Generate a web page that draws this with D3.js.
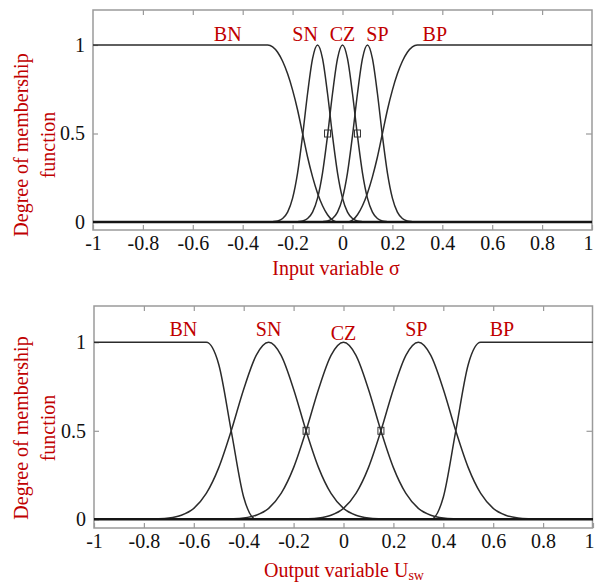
<!DOCTYPE html>
<html>
<head>
    <meta charset="utf-8">
    <title>Membership functions</title>
    <script src="https://d3js.org/d3.v7.min.js"></script>
    <style>
        body { margin: 0; padding: 0; background: #fff; }
        svg text { font-family: "Liberation Serif", "DejaVu Serif", serif; }
        .frame { fill: none; stroke: #9a9a9a; stroke-width: 1.5; }
        .axis .domain { display: none; }
        .axis .tick line { stroke: #9a9a9a; stroke-width: 1.2; }
        .axis .tick text { fill: #111; font-size: 20px; }
        .mf { fill: none; stroke: #2b2b2b; stroke-width: 1.5; }
        .red { fill: #c00000; font-size: 20px; }
    </style>
</head>
<body>
<svg id="svg" width="596" height="586"></svg>
<script>
    const mfNames = ["BN", "SN", "CZ", "SP", "BP"];
    const xTicks = [-1, -0.8, -0.6, -0.4, -0.2, 0, 0.2, 0.4, 0.6, 0.8, 1];
    const yTicks = [0, 0.5, 1];

    // Input variable sigma (top chart)
    const inputX = [-1,
        -0.34, -0.32, -0.30, -0.28, -0.26, -0.24, -0.22, -0.20, -0.18, -0.16, -0.14, -0.12, -0.10, -0.08, -0.06, -0.04, -0.02,
        0,
        0.02, 0.04, 0.06, 0.08, 0.10, 0.12, 0.14, 0.16, 0.18, 0.20, 0.22, 0.24, 0.26, 0.28, 0.30, 0.32, 0.34,
        1];
    const inputBN = [1,
        1, 1, 1, 0.99, 0.959, 0.908, 0.837, 0.745, 0.633, 0.5, 0.367, 0.255, 0.163, 0.092, 0.041, 0.01, 0,
        0,
        0, 0, 0, 0, 0, 0, 0, 0, 0, 0, 0, 0, 0, 0, 0, 0, 0,
        0];
    const inputSN = [0,
        0, 0, 0, 0.002, 0.006, 0.02, 0.056, 0.135, 0.278, 0.487, 0.726, 0.923, 1, 0.923, 0.726, 0.487, 0.278,
        0.135,
        0.056, 0.02, 0.006, 0.002, 0, 0, 0, 0, 0, 0, 0, 0, 0, 0, 0, 0, 0,
        0];
    const inputCZ = [0,
        0, 0, 0, 0, 0, 0, 0, 0, 0.002, 0.006, 0.02, 0.056, 0.135, 0.278, 0.487, 0.726, 0.923,
        1,
        0.923, 0.726, 0.487, 0.278, 0.135, 0.056, 0.02, 0.006, 0.002, 0, 0, 0, 0, 0, 0, 0, 0,
        0];
    const inputSP = [0,
        0, 0, 0, 0, 0, 0, 0, 0, 0, 0, 0, 0, 0, 0.002, 0.006, 0.02, 0.056,
        0.135,
        0.278, 0.487, 0.726, 0.923, 1, 0.923, 0.726, 0.487, 0.278, 0.135, 0.056, 0.02, 0.006, 0.002, 0, 0, 0,
        0];
    const inputBP = [0,
        0, 0, 0, 0, 0, 0, 0, 0, 0, 0, 0, 0, 0, 0, 0, 0, 0,
        0,
        0, 0.01, 0.041, 0.092, 0.163, 0.255, 0.367, 0.5, 0.633, 0.745, 0.837, 0.908, 0.959, 0.99, 1, 1, 1,
        1];
    const inputMarks = [-0.06, 0.06];

    // Output variable Usw (bottom chart)
    const outputX = [
        -1, -0.95, -0.9, -0.85, -0.8, -0.75, -0.7, -0.65, -0.6, -0.55,
        -0.5, -0.45, -0.4, -0.35, -0.3, -0.25, -0.2, -0.15, -0.1, -0.05,
        0, 0.05, 0.1, 0.15, 0.2, 0.25, 0.3, 0.35, 0.4, 0.45,
        0.5, 0.55, 0.6, 0.65, 0.7, 0.75, 0.8, 0.85, 0.9, 0.95,
        1];
    const outputBN = [
        1, 1, 1, 1, 1, 1, 1, 1, 1, 1,
        0.875, 0.5, 0.125, 0, 0, 0, 0, 0, 0, 0,
        0, 0, 0, 0, 0, 0, 0, 0, 0, 0,
        0, 0, 0, 0, 0, 0, 0, 0, 0, 0,
        0];
    const outputSN = [
        0, 0, 0, 0, 0, 0.002, 0.007, 0.023, 0.062, 0.146,
        0.292, 0.5, 0.735, 0.926, 1, 0.926, 0.735, 0.5, 0.292, 0.146,
        0.062, 0.023, 0.007, 0.002, 0, 0, 0, 0, 0, 0,
        0, 0, 0, 0, 0, 0, 0, 0, 0, 0,
        0];
    const outputCZ = [
        0, 0, 0, 0, 0, 0, 0, 0, 0, 0,
        0, 0.002, 0.007, 0.023, 0.062, 0.146, 0.292, 0.5, 0.735, 0.926,
        1, 0.926, 0.735, 0.5, 0.292, 0.146, 0.062, 0.023, 0.007, 0.002,
        0, 0, 0, 0, 0, 0, 0, 0, 0, 0,
        0];
    const outputSP = [
        0, 0, 0, 0, 0, 0, 0, 0, 0, 0,
        0, 0, 0, 0, 0, 0, 0, 0.002, 0.007, 0.023,
        0.062, 0.146, 0.292, 0.5, 0.735, 0.926, 1, 0.926, 0.735, 0.5,
        0.292, 0.146, 0.062, 0.023, 0.007, 0.002, 0, 0, 0, 0,
        0];
    const outputBP = [
        0, 0, 0, 0, 0, 0, 0, 0, 0, 0,
        0, 0, 0, 0, 0, 0, 0, 0, 0, 0,
        0, 0, 0, 0, 0, 0, 0, 0, 0.125, 0.5,
        0.875, 1, 1, 1, 1, 1, 1, 1, 1, 1,
        1];
    const outputMarks = [-0.15, 0.15];

    // where the MF names sit, in data units
    const inputLabelPos = [[-0.46, 1.025], [-0.15, 1.025], [0, 1.025], [0.14, 1.025], [0.37, 1.025]];
    const outputLabelPos = [[-0.642, 1.033], [-0.3, 1.033], [0, 1.013], [0.292, 1.033], [0.635, 1.033]];

    const svg = d3.select("#svg");

    function drawPanel(p) {
        const x = d3.scaleLinear().domain([-1, 1]).range([p.x0, p.x1]);
        const y = d3.scaleLinear().domain([0, 1]).range([p.yZero, p.yOne]);
        const g = svg.append("g");

        g.append("rect")
            .attr("class", "frame")
            .attr("x", p.left).attr("y", p.top)
            .attr("width", p.right - p.left).attr("height", p.bottom - p.top);

        // Inward ticks on all four sides.
        const xAxis = g.append("g")
            .attr("class", "axis")
            .attr("transform", `translate(0, ${p.bottom})`)
            .call(d3.axisBottom(x).tickValues(xTicks).tickSizeInner(-5).tickSizeOuter(0)
                .tickPadding(6).tickFormat(d => String(d)));
        // last label sits against the right edge
        xAxis.selectAll(".tick text").filter(d => d === 1).attr("dx", -4);

        g.append("g")
            .attr("class", "axis")
            .attr("transform", `translate(0, ${p.top})`)
            .call(d3.axisTop(x).tickValues(xTicks.slice(1, -1)).tickSizeInner(-5).tickSizeOuter(0).tickFormat(""));
        g.append("g")
            .attr("class", "axis")
            .attr("transform", `translate(${p.left}, 0)`)
            .call(d3.axisLeft(y).tickValues(yTicks).tickSizeInner(-5).tickSizeOuter(0)
                .tickPadding(8).tickFormat(d => String(d)));
        g.append("g")
            .attr("class", "axis")
            .attr("transform", `translate(${p.right}, 0)`)
            .call(d3.axisRight(y).tickValues([0.5]).tickSizeInner(-6).tickSizeOuter(0).tickFormat(""));

        // Membership curves.
        const line = d3.line().x(d => x(d[0])).y(d => y(d[1])).curve(d3.curveMonotoneX);
        p.series.forEach(vals => {
            g.append("path")
                .datum(p.xs.map((v, i) => [v, vals[i]]))
                .attr("class", "mf")
                .attr("d", line);
        });

        // zero level where all tails overlap
        g.append("line")
            .attr("x1", x(-1)).attr("x2", x(1))
            .attr("y1", y(0)).attr("y2", y(0))
            .attr("stroke", "#151515").attr("stroke-width", 2.4);

        // small square markers at the 0.5 crossings
        g.selectAll(".mark")
            .data(p.marks)
            .join("rect")
            .attr("x", d => x(d) - 3).attr("y", y(0.5) - 3.5)
            .attr("width", 6).attr("height", 7)
            .attr("fill", "none").attr("stroke", "#333").attr("stroke-width", 1);

        // MF names
        g.selectAll(".mfname")
            .data(mfNames)
            .join("text")
            .attr("class", "red")
            .attr("text-anchor", "middle")
            .attr("x", (d, i) => x(p.labels[i][0]))
            .attr("y", (d, i) => y(p.labels[i][1]))
            .text(d => d);

        // Y title, two lines, rotated
        const yt = g.append("text")
            .attr("class", "red")
            .attr("text-anchor", "middle")
            .attr("transform", `translate(28, ${p.yTitleMid}) rotate(-90)`);
        yt.append("tspan").attr("x", 0).attr("y", 0).text("Degree of membership");
        yt.append("tspan").attr("x", 0).attr("y", 27).text("function");

        return { x, y, g };
    }

    const topChart = drawPanel({
        left: 93, right: 592, top: 10, bottom: 230,
        x0: 93, x1: 592, yZero: 222, yOne: 45,
        xs: inputX, series: [inputBN, inputSN, inputCZ, inputSP, inputBP],
        marks: inputMarks, labels: inputLabelPos, yTitleMid: 145
    });
    topChart.g.append("text")
        .attr("class", "red")
        .attr("text-anchor", "middle")
        .attr("x", 336).attr("y", 275)
        .text("Input variable σ");

    const bottomChart = drawPanel({
        left: 94, right: 592.5, top: 306, bottom: 528,
        x0: 94, x1: 593, yZero: 519.3, yOne: 342.3,
        xs: outputX, series: [outputBN, outputSN, outputCZ, outputSP, outputBP],
        marks: outputMarks, labels: outputLabelPos, yTitleMid: 428
    });
    const xt = bottomChart.g.append("text")
        .attr("class", "red")
        .attr("text-anchor", "middle")
        .attr("x", 344).attr("y", 577);
    xt.append("tspan").text("Output variable U");
    xt.append("tspan").attr("font-size", "14px").attr("dy", 3).text("sw");
</script>
</body>
</html>
